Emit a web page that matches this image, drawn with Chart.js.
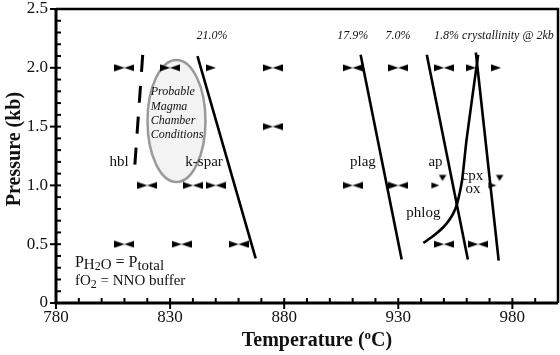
<!DOCTYPE html>
<html><head><meta charset="utf-8">
<script src="https://cdn.jsdelivr.net/npm/chart.js@4"></script>
<style>html,body{margin:0;padding:0;background:#fff}</style>
</head><body>
<canvas id="c" width="560" height="355" style="width:560px;height:355px;display:block"></canvas>
<script>
// ---- data (Temperature °C, Pressure kb) ----
const xLabelTicks = [780, 830, 880, 930, 980];
const yLabelTicks = [0, 0.5, 1.0, 1.5, 2.0, 2.5];

// experiment markers: full bow-ties (both halves)
const bowtieT = [810, 830, 875, 910, 930, 950, 875, 820, 840, 850, 910, 930, 810, 835, 860, 950, 965];
const bowtieP = [2.0, 2.0, 2.0, 2.0, 2.0, 2.0, 1.5, 1.0, 1.0, 1.0, 1.0, 1.0, 0.5, 0.5, 0.5, 0.5, 0.5];
// right-pointing half markers only
const halfT = [850, 964, 975];
const halfP = [2.0, 2.0, 2.0];
// half marker with down triangle
const flagT = [948, 973];
const flagP = [1.0, 1.0];

// phase boundaries
const hblT = [818, 814.5];      const hblP = [2.11, 1.16];
const kspT = [842, 867.5];      const kspP = [2.10, 0.38];
const plagT = [913.5, 931.5];   const plagP = [2.11, 0.37];
const apT = [942.5, 960.5];     const apP = [2.11, 0.37];
const cpxT = [964, 974];        const cpxP = [2.13, 0.36];
const phlogT = [965, 960, 958, 956.5, 955, 952.5, 949.5, 945, 941];
const phlogP = [2.11, 1.40, 1.05, 0.90, 0.80, 0.71, 0.64, 0.565, 0.51];

// magma chamber field (ellipse center / radii in data units)
const ellipseC = [832.8, 1.548];
const ellipseR = [12.7, 0.519];

const pts = (xs, ys) => xs.map((x, i) => ({x, y: ys[i]}));

function markerCanvas(kind) {
  const c = document.createElement('canvas');
  const g = c.getContext('2d');
  if (kind === 'flag') {
    c.width = 18; c.height = 24;
    g.fillStyle = '#000';
    g.beginPath(); g.moveTo(1, 9); g.lineTo(9, 12); g.lineTo(1, 15); g.closePath(); g.fill();
    g.beginPath(); g.moveTo(8.5, 1.5); g.lineTo(16, 1.5); g.lineTo(12.2, 7.5); g.closePath(); g.fill();
    return c;
  }
  c.width = 20; c.height = 8;
  g.fillStyle = '#000';
  g.beginPath(); g.moveTo(0, 0.5); g.lineTo(10.2, 4); g.lineTo(0, 7.5); g.closePath(); g.fill();
  if (kind === 'both') {
    g.beginPath(); g.moveTo(20, 0.5); g.lineTo(9.8, 4); g.lineTo(20, 7.5); g.closePath(); g.fill();
  }
  return c;
}

const SERIF = '"Liberation Serif", "Times New Roman", serif';

function lineDS(xs, ys, extra) {
  return Object.assign({
    data: pts(xs, ys), showLine: true, pointRadius: 0, borderColor: '#000',
    borderWidth: 2.6, fill: false, tension: 0, order: 1
  }, extra || {});
}

const decor = {
  id: 'decor',
  beforeDatasetsDraw(chart) {
    const {ctx, scales: {x, y}} = chart;
    const cx = x.getPixelForValue(ellipseC[0]), cy = y.getPixelForValue(ellipseC[1]);
    const rx = Math.abs(x.getPixelForValue(ellipseC[0] + ellipseR[0]) - cx);
    const ry = Math.abs(y.getPixelForValue(ellipseC[1] + ellipseR[1]) - cy);
    ctx.save();
    ctx.beginPath(); ctx.ellipse(cx, cy, rx, ry, 0, 0, Math.PI * 2);
    ctx.fillStyle = '#f3f3f3'; ctx.fill();
    ctx.lineWidth = 2.5; ctx.strokeStyle = '#9a9a9a'; ctx.stroke();
    // ellipse text
    ctx.fillStyle = '#111';
    ctx.font = 'italic 12px ' + SERIF;
    ctx.textAlign = 'left'; ctx.textBaseline = 'alphabetic';
    const lines = ['Probable', 'Magma', 'Chamber', 'Conditions'];
    const lp = [1.769, 1.645, 1.522, 1.401];
    lines.forEach((s, i) => ctx.fillText(s, x.getPixelForValue(821.5), y.getPixelForValue(lp[i])));
    ctx.restore();
  },
  afterDraw(chart) {
    const {ctx, chartArea: a, scales: {x, y}} = chart;
    ctx.save();
    ctx.strokeStyle = '#000';
    // ticks (inside), majors cross the axis
    ctx.lineWidth = 2;
    x.ticks.forEach(t => {
      const px = x.getPixelForValue(t.value);
      const major = xLabelTicks.includes(Math.round(t.value));
      ctx.beginPath(); ctx.moveTo(px, a.bottom + (major ? 6 : 0)); ctx.lineTo(px, a.bottom - 5); ctx.stroke();
    });
    y.ticks.forEach(t => {
      const py = y.getPixelForValue(t.value);
      const major = yLabelTicks.some(v => Math.abs(v - t.value) < 1e-6);
      ctx.beginPath(); ctx.moveTo(a.left - (major ? 6 : 0), py); ctx.lineTo(a.left + 5, py); ctx.stroke();
    });
    // frame
    ctx.lineWidth = 3;
    ctx.beginPath(); ctx.moveTo(a.left, a.top); ctx.lineTo(a.left, a.bottom); ctx.lineTo(a.right, a.bottom); ctx.stroke();
    ctx.lineWidth = 2.5;
    ctx.beginPath(); ctx.moveTo(a.left, a.top); ctx.lineTo(a.right, a.top); ctx.lineTo(a.right, a.bottom); ctx.stroke();

    ctx.fillStyle = '#111';
    ctx.textBaseline = 'alphabetic';
    const put = (s, T, P, font, align) => {
      ctx.font = font; ctx.textAlign = align || 'center';
      ctx.fillText(s, x.getPixelForValue(T), y.getPixelForValue(P));
    };
    const IT = 'italic 12px ' + SERIF;
    put('21.0%', 848.4, 2.245, IT);
    put('17.9%', 910.1, 2.245, IT);
    put('7.0%', 929.9, 2.245, IT);
    put('1.8% crystallinity @ 2kb', 945.7, 2.245, IT, 'left');
    const NF = '15px ' + SERIF;
    put('hbl', 807.6, 1.169, NF);
    put('k-spar', 844.9, 1.169, NF);
    put('plag', 914.5, 1.169, NF);
    put('ap', 946.3, 1.169, NF);
    put('cpx', 962.5, 1.046, NF);
    put('ox', 962.7, 0.935, NF);
    put('phlog', 941.0, 0.7355, NF);

    // P_H2O = P_total ; fO2 = NNO buffer
    const runs = (parts, T, P) => {
      let px = x.getPixelForValue(T); const py = y.getPixelForValue(P);
      ctx.textAlign = 'left';
      parts.forEach(([s, size, dy]) => {
        ctx.font = size + 'px ' + SERIF;
        ctx.fillText(s, px, py + dy);
        px += ctx.measureText(s).width;
      });
    };
    runs([['P', 16, 0], ['H', 15, 2], ['2', 12, 3], ['O', 15, 2], [' = P', 16, 0], ['total', 15, 3]], 788.3, 0.31);
    runs([['fO', 15, 0], ['2', 12, 3], [' = NNO buffer', 15, 0]], 788.3, 0.153);

    // axis titles
    ctx.textAlign = 'left';
    const t1 = 'Temperature (', t2 = 'o', t3 = 'C)';
    ctx.font = 'bold 20px ' + SERIF; const w1 = ctx.measureText(t1).width;
    ctx.font = 'bold 13px ' + SERIF; const w2 = ctx.measureText(t2).width;
    ctx.font = 'bold 20px ' + SERIF; const w3 = ctx.measureText(t3).width;
    let sx = 317 - (w1 + w2 + w3) / 2;
    const by = 346;
    ctx.font = 'bold 20px ' + SERIF; ctx.fillText(t1, sx, by); sx += w1;
    ctx.font = 'bold 13px ' + SERIF; ctx.fillText(t2, sx, by - 7); sx += w2;
    ctx.font = 'bold 20px ' + SERIF; ctx.fillText(t3, sx, by);

    ctx.translate(20, 149); ctx.rotate(-Math.PI / 2);
    ctx.font = 'bold 20px ' + SERIF; ctx.textAlign = 'center';
    ctx.fillText('Pressure (kb)', 0, 0);
    ctx.restore();
  }
};

const noPad = s => { s.paddingLeft = 0; s.paddingRight = 0; s.paddingTop = 0; s.paddingBottom = 0; };

new Chart(document.getElementById('c'), {
  type: 'scatter',
  data: {
    datasets: [
      lineDS(hblT, hblP, {borderDash: [17, 14], borderWidth: 3}),
      lineDS(kspT, kspP),
      lineDS(plagT, plagP),
      lineDS(apT, apP),
      lineDS(cpxT, cpxP),
      lineDS(phlogT, phlogP, {tension: 0.25}),
      {data: pts(bowtieT, bowtieP), pointStyle: markerCanvas('both'), pointRadius: 10, order: 0},
      {data: pts(halfT, halfP), pointStyle: markerCanvas('half'), pointRadius: 10, order: 0},
      {data: pts(flagT, flagP), pointStyle: markerCanvas('flag'), pointRadius: 10, order: 0}
    ]
  },
  options: {
    responsive: false, devicePixelRatio: 1, animation: false,
    layout: {autoPadding: false, padding: {top: 9, right: 2, left: 0, bottom: 0}},
    plugins: {legend: {display: false}, tooltip: {enabled: false}},
    scales: {
      x: {
        type: 'linear', min: 780, max: 1000,
        grid: {display: false, drawTicks: false}, border: {display: false},
        afterFit: s => { s.height = 52; noPad(s); },
        ticks: {
          stepSize: 10, autoSkip: false, maxRotation: 0, padding: 4,
          color: '#111', font: {family: SERIF, size: 17},
          callback: v => xLabelTicks.includes(Math.round(v)) ? String(Math.round(v)) : ''
        }
      },
      y: {
        type: 'linear', min: 0, max: 2.5,
        grid: {display: false, drawTicks: false}, border: {display: false},
        afterFit: s => { s.width = 56; noPad(s); },
        ticks: {
          stepSize: 0.1, autoSkip: false, padding: 8,
          color: '#111', font: {family: SERIF, size: 17},
          callback: v => {
            const m = yLabelTicks.find(t => Math.abs(t - v) < 1e-6);
            return m === undefined ? '' : (m === 0 ? '0' : m.toFixed(1));
          }
        }
      }
    }
  },
  plugins: [decor]
});
</script>
</body></html>
